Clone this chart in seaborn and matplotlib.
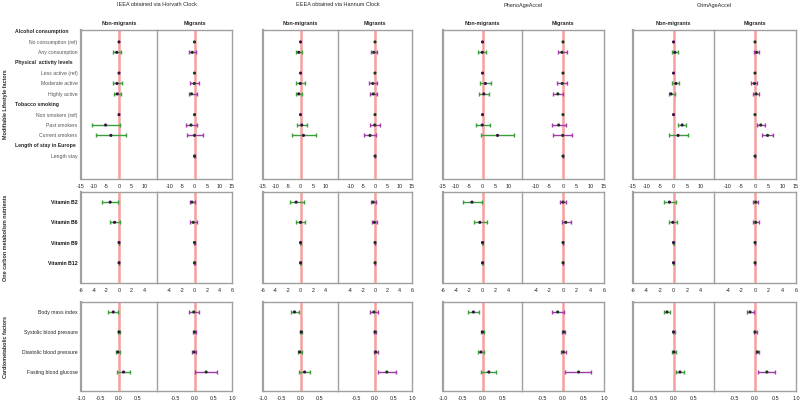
import numpy as np
import pandas as pd
import matplotlib.pyplot as plt
import matplotlib.transforms as mtransforms
import seaborn as sns

sns.set_style("white")
plt.rcParams["font.family"] = ["Liberation Sans", "DejaVu Sans"]

# -------------------------
# DATA  (estimate, lower CI, upper CI)
# -------------------------
clocks = ["IEEA obtained via Horvath Clock", "EEEA obtained via Hannum Clock",
          "PhenoAgeAccel", "GrimAgeAccel"]
groups = ["Non-migrants", "Migrants"]

life_sections = ["Alcohol consumption", "Physical  activity levels",
                 "Tobacco smoking", "Length of stay in Europe"]
life_items = [["No consumption (ref)", "Any consumption"],
              ["Less active (ref)", "Moderate active", "Highly active"],
              ["Non smokers (ref)", "Past smokers", "Current smokers"],
              ["Length stay"]]
nutrients = ["Vitamin B2", "Vitamin B6", "Vitamin B9", "Vitamin B12"]
cardio = ["Body mass index", "Systolic blood pressure",
          "Diastolic blood pressure", "Fasting blood glucose"]

# lifestyle rows: no cons, any, less, moderate, highly, non smk, past, current, length stay
horvath_life_nm = [(0, 0, 0), (-0.9, -2.2, 0.7), (0, 0, 0), (-0.8, -2.5, 1.3), (-0.7, -2.1, 0.9),
                   (0, 0, 0), (-5.3, -10.5, 0.4), (-3.2, -9.1, 2.9), None]
horvath_life_mig = [(0, 0, 0), (-0.9, -2.2, 0.4), (0, 0, 0), (-0.1, -2.0, 1.8), (-1.2, -2.2, 0.8),
                    (0, 0, 0), (-1.4, -3.5, 0.8), (0.0, -2.9, 3.2), (0.0, -0.1, 0.1)]
hannum_life_nm = [(0, 0, 0), (-0.7, -1.9, 0.4), (0, 0, 0), (-0.1, -1.9, 1.6), (-0.7, -1.9, 0.7),
                  (0, 0, 0), (0.5, -1.5, 2.5), (1.2, -3.6, 6.0), None]
hannum_life_mig = [(0, 0, 0), (-0.5, -1.5, 0.8), (0, 0, 0), (-0.9, -2.3, 0.7), (-0.7, -2.0, 0.7),
                   (0, 0, 0), (-0.1, -2.0, 2.0), (-2.0, -4.5, 0.5), (0.0, -0.1, 0.1)]
pheno_life_nm = [(0, 0, 0), (-0.1, -1.8, 1.5), (0, 0, 0), (1.1, -1.0, 3.2), (0.5, -1.3, 2.3),
                 (0, 0, 0), (-0.1, -2.4, 2.7), (5.7, -0.4, 12.0), None]
pheno_life_mig = [(0, 0, 0), (-0.4, -1.9, 1.3), (0, 0, 0), (-0.3, -2.2, 1.6), (-1.9, -3.5, 0.0),
                  (0, 0, 0), (-1.6, -4.2, 1.1), (-0.1, -3.5, 3.3), (0.0, -0.1, 0.1)]
grim_life_nm = [(0, 0, 0), (0.5, -0.6, 1.5), (0, 0, 0), (0.9, -0.5, 2.2), (-0.9, -1.7, 0.4),
                (0, 0, 0), (3.2, 1.7, 4.7), (1.7, -1.7, 5.2), None]
grim_life_mig = [(0, 0, 0), (0.6, -0.4, 1.6), (0, 0, 0), (-0.2, -1.4, 0.9), (0.4, -0.6, 1.5),
                 (0, 0, 0), (2.1, 0.6, 3.5), (4.6, 2.7, 6.5), (0.0, -0.1, 0.1)]

# one carbon nutrients: B2, B6, B9, B12
horvath_nut_nm = [(-1.4, -2.7, -0.1), (-0.7, -1.5, 0.1), (0.0, -0.05, 0.05), (0.0, -0.05, 0.05)]
horvath_nut_mig = [(-0.4, -0.8, 0.0), (-0.2, -0.7, 0.4), (0.0, -0.05, 0.05), (0.0, -0.05, 0.05)]
hannum_nut_nm = [(-0.7, -1.7, 0.5), (0.0, -0.7, 0.7), (0.0, -0.05, 0.05), (0.0, -0.05, 0.05)]
hannum_nut_mig = [(-0.3, -0.7, 0.1), (-0.1, -0.5, 0.4), (0.0, -0.05, 0.05), (0.0, -0.05, 0.05)]
pheno_nut_nm = [(-1.6, -3.0, -0.05), (-0.4, -1.3, 0.65), (0.0, -0.05, 0.05), (0.0, -0.05, 0.05)]
pheno_nut_mig = [(0.0, -0.4, 0.5), (0.4, -0.1, 1.1), (0.0, -0.05, 0.05), (0.0, -0.05, 0.05)]
grim_nut_nm = [(-0.6, -1.4, 0.3), (-0.1, -0.7, 0.5), (0.0, -0.05, 0.05), (0.0, -0.05, 0.05)]
grim_nut_mig = [(0.1, -0.25, 0.4), (0.1, -0.35, 0.6), (0.0, -0.05, 0.05), (0.0, -0.05, 0.05)]

# cardiometabolic: BMI, SBP, DBP, FBG
horvath_card_nm = [(-0.15, -0.28, -0.02), (0.0, -0.02, 0.02), (-0.03, -0.09, 0.02), (0.12, -0.04, 0.29)]
horvath_card_mig = [(-0.02, -0.15, 0.11), (0.0, -0.03, 0.03), (-0.01, -0.06, 0.05), (0.31, 0.01, 0.6)]
hannum_card_nm = [(-0.16, -0.26, -0.04), (0.02, -0.01, 0.05), (-0.02, -0.08, 0.05), (0.11, -0.03, 0.26)]
hannum_card_mig = [(-0.03, -0.13, 0.09), (0.0, -0.03, 0.04), (0.02, -0.04, 0.07), (0.32, 0.07, 0.57)]
pheno_card_nm = [(-0.23, -0.37, -0.08), (0.0, -0.04, 0.04), (-0.04, -0.11, 0.03), (0.16, -0.03, 0.35)]
pheno_card_mig = [(-0.13, -0.26, 0.02), (0.02, -0.03, 0.06), (0.01, -0.05, 0.07), (0.38, 0.06, 0.69)]
grim_card_nm = [(-0.16, -0.24, -0.09), (0.0, -0.02, 0.03), (0.01, -0.04, 0.06), (0.16, 0.06, 0.26)]
grim_card_mig = [(-0.12, -0.2, -0.03), (0.0, -0.03, 0.04), (0.06, 0.02, 0.1), (0.29, 0.08, 0.48)]

life_data = [(horvath_life_nm, horvath_life_mig), (hannum_life_nm, hannum_life_mig),
             (pheno_life_nm, pheno_life_mig), (grim_life_nm, grim_life_mig)]
nut_data = [(horvath_nut_nm, horvath_nut_mig), (hannum_nut_nm, hannum_nut_mig),
            (pheno_nut_nm, pheno_nut_mig), (grim_nut_nm, grim_nut_mig)]
card_data = [(horvath_card_nm, horvath_card_mig), (hannum_card_nm, hannum_card_mig),
             (pheno_card_nm, pheno_card_mig), (grim_card_nm, grim_card_mig)]

# -------------------------
# LAYOUT (pixels)
# -------------------------
W, H = 800, 403
panel_x = [(81, 157, 232), (263, 338, 412), (443, 522, 604), (633, 714, 796)]
block_y = [(30, 179), (192, 283), (302, 391)]

GREEN = "#3a9e3a"
PURPLE = "#a03aa8"
DOT_NM = "#3d0b4a"
DOT_MIG = "#0d3d10"
ZERO = "#f5a0a0"
SPINE = "#a0a0a0"

# lifestyle row positions: a header row then its items
life_pos, header_pos = [], []
p = 0
for items in life_items:
    header_pos.append(p)
    p += 1
    for _ in items:
        life_pos.append(p)
        p += 1
life_labels = [it for items in life_items for it in items]


def add_ax(fig, x0, x1, y0, y1):
    ax = fig.add_axes([x0 / W, 1 - y1 / H, (x1 - x0) / W, (y1 - y0) / H])
    ax.patch.set_alpha(0)
    return ax


def draw_panel(ax, pos, vals, bar_color, dot_color):
    rows = []
    for p, v in zip(pos, vals):
        if v is None:
            continue
        est, lo, hi = v
        if hi > lo:
            ax.errorbar(est, p, xerr=[[est - lo], [hi - est]], fmt="none",
                        ecolor=bar_color, elinewidth=1.0, capsize=1.5,
                        capthick=1.0, zorder=2)
        rows.append({"est": est, "pos": p})
    df = pd.DataFrame(rows)
    sns.scatterplot(data=df, x="est", y="pos", color=dot_color, s=5,
                    edgecolor="none", ax=ax, zorder=3, legend=False)


def style_ax(ax, lim, ticks, ylim):
    ax.axvline(0, color=ZERO, lw=1.8, zorder=1)
    ax.set_xlim(-lim, lim)
    ax.set_ylim(*ylim)
    ax.set_xticks(ticks)
    ax.set_xticklabels([(f"{t:.1f}" if lim == 1 else f"{t:g}") for t in ticks])
    ax.tick_params(axis="x", labelsize=3.9, length=1.5, width=0.4,
                   color=SPINE, pad=1.8, labelcolor="#222222")
    ax.set_xlabel("")
    ax.set_ylabel("")
    ax.set_yticks([])
    for s in ax.spines.values():
        s.set_color(SPINE)
        s.set_linewidth(1.0)


fig = plt.figure(figsize=(W / 100, H / 100), dpi=100)

blocks = [
    (life_data, life_pos, life_labels, 15,
     ([-15, -10, -5, 0, 5, 10], [-10, -5, 0, 5, 10, 15]), (14.2, -0.15)),
    (nut_data, list(range(4)), nutrients, 6,
     ([-6, -4, -2, 0, 2, 4], [-4, -2, 0, 2, 4, 6]), (4.0, -0.5)),
    (card_data, list(range(4)), cardio, 1,
     ([-1.0, -0.5, 0.0, 0.5], [-0.5, 0.0, 0.5, 1.0]), (3.95, -0.5)),
]

for b, (data, pos, labels, lim, ticks, ylim) in enumerate(blocks):
    y0, y1 = block_y[b]
    for c, (xl, xm, xr) in enumerate(panel_x):
        nm_vals, mig_vals = data[c]
        ax_l = add_ax(fig, xl, xm, y0, y1)
        ax_r = add_ax(fig, xm, xr, y0, y1)
        draw_panel(ax_l, pos, nm_vals, GREEN, DOT_NM)
        draw_panel(ax_r, pos, mig_vals, PURPLE, DOT_MIG)
        style_ax(ax_l, lim, ticks[0], ylim)
        style_ax(ax_r, lim, ticks[1], ylim)
        ax_r.spines["left"].set_visible(False)
        ax_l.spines["left"].set_linewidth(1.6)
        if c == 0:
            ax_l.set_yticks(pos)
            if b == 0:
                ax_l.set_yticklabels(labels, fontsize=3.7, color="#555555")
            elif b == 1:
                ax_l.set_yticklabels(labels, fontsize=3.7, fontweight="bold", color="#111111")
            else:
                ax_l.set_yticklabels(labels, fontsize=3.7, color="#222222")
            ax_l.tick_params(axis="y", length=0, pad=2.5)
            if b == 0:
                trans = mtransforms.blended_transform_factory(fig.transFigure, ax_l.transData)
                for hp, name in zip(header_pos, life_sections):
                    ax_l.text(15 / W, hp, name, transform=trans, fontsize=3.7,
                              fontweight="bold", ha="left", va="center")
        if b == 0:
            fig.text((xl + xr) / 2 / W, 1 - 5 / H, clocks[c], fontsize=4.0,
                     ha="center", va="center")
            fig.text((xl + xm) / 2 / W, 1 - 23 / H, groups[0], fontsize=3.9,
                     fontweight="bold", ha="center", va="center")
            fig.text((xm + xr) / 2 / W, 1 - 23 / H, groups[1], fontsize=3.9,
                     fontweight="bold", ha="center", va="center")

block_names = ["Modifiable Lifestyle factors", "One carbon metabolism nutrients",
               "Cardiometabolic factors"]
for (y0, y1), name in zip(block_y, block_names):
    fig.text(6 / W, 1 - (y0 + y1) / 2 / H, name, rotation=90, fontsize=3.9,
             fontweight="bold", ha="center", va="center")

plt.savefig("out.png", dpi=100)
